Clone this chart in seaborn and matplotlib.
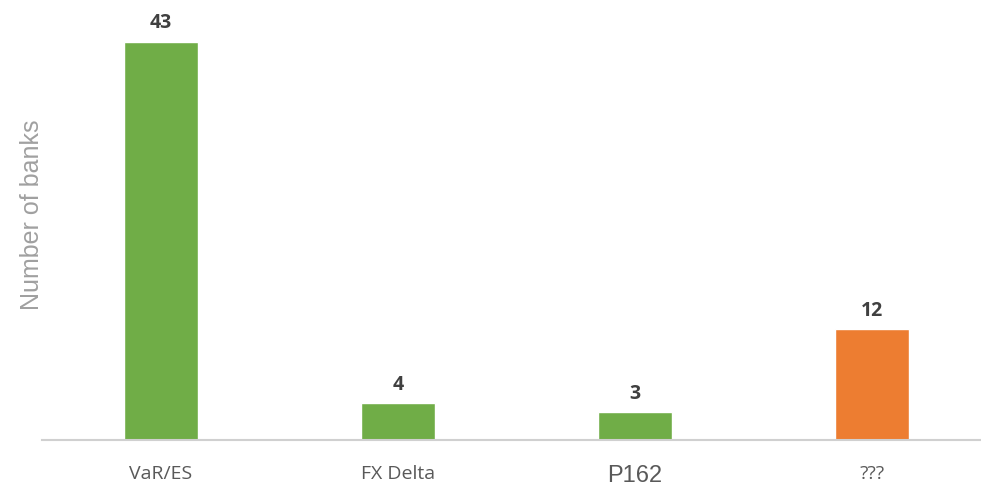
import pandas as pd
import seaborn as sns
import matplotlib.pyplot as plt

categories = ['VaR/ES', 'FX Delta', 'P162', '???']
banks = [43, 4, 3, 12]
colors = ['#70AD47', '#70AD47', '#70AD47', '#ED7D31']

df = pd.DataFrame({'Method': categories, 'Banks': banks})

sns.set_style('white')
fig = plt.figure(figsize=(9.81, 4.89), dpi=100)
ax = fig.add_axes([0.0433, 0.098, 0.9567, 0.902])

sns.barplot(data=df, x='Method', y='Banks', hue='Method', palette=colors,
            width=0.31, legend=False, saturation=1, ax=ax)

for i, v in enumerate(banks):
    ax.text(i, v + 1.0, str(v), ha='center', va='bottom', fontsize=14,
            fontweight='bold', color='#404040', family='Open Sans')

ax.set_xlim(-0.5, 3.46)
ax.set_ylim(0, 47.6)
ax.set_yticks([])
ax.set_xlabel('')
ax.set_ylabel('Number of banks', fontsize=18, color='#A0A0A0',
              family='Liberation Sans')
ax.yaxis.set_label_coords(0.0016, 0.512)
ax.tick_params(axis='x', length=0, pad=17)
for lbl in ax.get_xticklabels():
    if lbl.get_text() == 'P162':
        lbl.set_fontsize(17)
        lbl.set_family('Liberation Sans')
    else:
        lbl.set_fontsize(14)
        lbl.set_family('Open Sans')
    lbl.set_color('#595959')

for s in ['top', 'right', 'left']:
    ax.spines[s].set_visible(False)
ax.spines['bottom'].set_color('#D0D0D0')
ax.spines['bottom'].set_linewidth(1.5)

plt.savefig('out.png', dpi=100)
